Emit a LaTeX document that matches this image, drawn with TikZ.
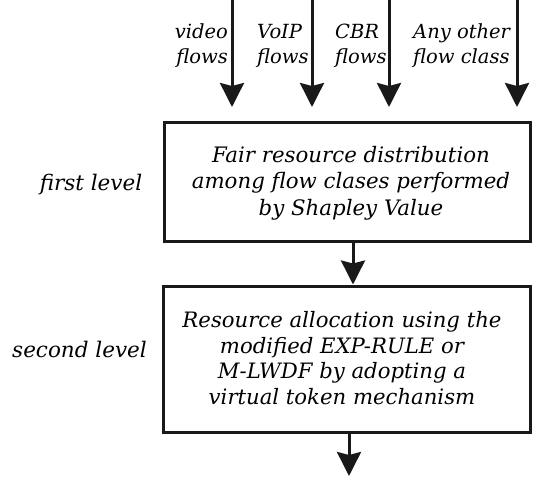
\documentclass[tikz,border=0pt]{standalone}
\usepackage{fontspec}
\setmainfont{DejaVu Serif}[ItalicFont={DejaVu Serif Italic}]
\usetikzlibrary{arrows.meta}
\begin{document}
\begin{tikzpicture}[x=1pt,y=-1pt,
  lbl/.style={font=\fontsize{21.5}{23}\selectfont\itshape, inner sep=0pt},
  toplbl/.style={font=\fontsize{19.5}{25}\selectfont\itshape, inner sep=0pt},
  box/.style={draw=black!90, line width=3pt, inner sep=0pt},
  flow/.style={line width=3pt, draw=black!90, -{Stealth[length=24pt,width=24pt,inset=3pt]}}
]
\useasboundingbox (0,0) rectangle (533,477);
% boxes
\node[box, minimum width=366pt, minimum height=119pt] (b1) at (347,182) {};
\node[box, minimum width=367pt, minimum height=146pt] (b2) at (346.5,359) {};
\node[lbl, align=center, font=\fontsize{21.3}{26.5}\selectfont\itshape] (t1) at (351,183) {Fair resource distribution\\among flow clases performed\\by Shapley Value};
\node[lbl, align=center, font=\fontsize{21.2}{25.7}\selectfont\itshape] (t2) at (342,358) {Resource allocation using the\\modified EXP-RULE or\\M-LWDF by adopting a\\virtual token mechanism};
% level labels
\node[lbl, anchor=base] (l1) at (91,190) {first level};
\node[lbl, anchor=base] (l2) at (79.5,357) {second level};
% top labels
\node[toplbl, align=right, anchor=east] (f1) at (228,46) {video\\flows};
\node[toplbl, align=left, anchor=west] (f2) at (257,46) {VoIP\\flows};
\node[toplbl, align=left, anchor=west] (f3) at (335,46) {CBR\\flows};
\node[toplbl, align=left, anchor=west] (f4) at (413,46) {Any other\\flow class};
% top arrows
\coordinate (s1) at (232,0); \coordinate (e1) at (232,107);
\coordinate (s2) at (312,0); \coordinate (e2) at (312,107);
\coordinate (s3) at (389,0); \coordinate (e3) at (389,107);
\coordinate (s4) at (517,0); \coordinate (e4) at (517,107);
\draw[flow] (s1) -- (e1);
\draw[flow] (s2) -- (e2);
\draw[flow] (s3) -- (e3);
\draw[flow] (s4) -- (e4);
% middle arrow
\coordinate (m) at (353,0);
\draw[flow] (b1.south -| m) -- (b2.north -| m);
% bottom arrow
\coordinate (bo) at (349,476);
\draw[flow] (b2.south -| bo) -- (bo);
\end{tikzpicture}
\end{document}
